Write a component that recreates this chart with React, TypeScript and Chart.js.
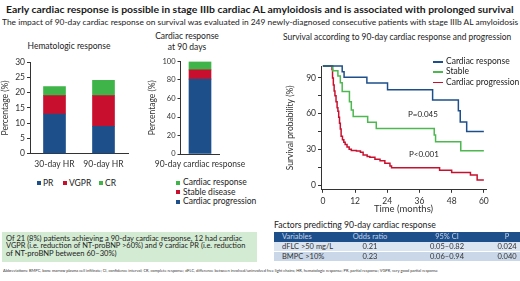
import React, { useEffect, useLayoutEffect, useRef } from 'react';
import { Chart, registerables } from 'chart.js';

Chart.register(...registerables);

const FONT = 'Lato, "Open Sans", sans-serif';
const BLUE = '#1d4f8b';
const RED = '#c8102e';
const GREEN = '#3fb549';
const KM_GREEN = '#4cb84f';
const AXIS = '#333333';

// Hematologic response (stacked %)
const hemaCategories = ['30-day HR', '90-day HR'];
const hemaPR = [13, 9];
const hemaVGPR = [6, 10];
const hemaCR = [3, 5];

// Cardiac response at 90 days (stacked %)
const cardCategories = ['90-day cardiac response'];
const cardProgression = [81];
const cardStable = [10];
const cardResponse = [9];

// Kaplan-Meier curves (months, survival %)
const respTime = [0, 7.2, 7.9, 16.4, 24.1, 40.9, 50.5, 51.2, 53.6, 60];
const respSurv = [100, 95.2, 90.5, 85.7, 80, 71.5, 62.5, 53, 45, 45];
const stableTime = [0, 3.7, 5.6, 6.5, 7.2, 9.9, 10.6, 11.3, 16.7, 19.9, 41.5, 42, 51.4, 60];
const stableSurv = [100, 96, 91.5, 86, 78.5, 70, 63, 57.5, 52.7, 47.6, 42, 36.4, 28.8, 28.8];
const progTime = [0, 3.4, 3.6, 3.9, 4.2, 4.5, 4.9, 5.3, 5.6, 5.9, 6.2, 6.5, 6.8, 7.3, 7.8, 8.3, 9.0, 9.8, 10.6, 12.5, 14, 15, 16.5, 17.5, 19.4, 21.3, 23.1, 25, 25.6, 43.5, 48, 55, 57.5, 60];
const progSurv = [100, 97, 90, 84, 79, 75, 70, 65, 62, 57, 52, 47, 41, 38, 36, 34, 32, 30, 29, 28.5, 27.5, 25.2, 24, 23.3, 21.6, 20.5, 18.2, 16, 14.5, 12.5, 10.6, 8.5, 4.2, 4.2];
const kmXTicks = [0, 12, 24, 36, 48, 60];
const kmYTicks = [0, 5, 10, 15, 20, 25, 30, 35, 40, 45, 50, 55, 60, 65, 70, 75, 80, 85, 90, 95, 100];

// Table
const tableHeader = ['Variables', 'Odds ratio', '95% CI', 'P'];
const tableVariables = ['dFLC >50 mg/L', 'BMPC >10%'];
const tableOdds = ['0.21', '0.23'];
const tableCI = ['0.05–0.82', '0.06–0.94'];
const tableP = ['0.024', '0.040'];

const axisBase = (size: number) => ({
  border: { display: true, color: AXIS, width: 1 },
  grid: { display: true, drawOnChartArea: false, drawTicks: true, tickLength: 3, color: AXIS },
  ticks: { color: AXIS, font: { family: FONT, size }, padding: 2 },
});

function ChartCanvas({ left, top, width, height, make }: any) {
  const ref = useRef<HTMLCanvasElement>(null);
  useEffect(() => {
    const chart = new Chart(ref.current as HTMLCanvasElement, make());
    return () => chart.destroy();
  }, []);
  return (
    <canvas
      ref={ref}
      width={width}
      height={height}
      style={{ position: 'absolute', left, top, width, height }}
    />
  );
}

function Fit({ x, cy, w, size, weight = 400, color = '#222', children }: any) {
  const ref = useRef<HTMLDivElement>(null);
  useLayoutEffect(() => {
    const el = ref.current as HTMLDivElement;
    const actual = el.offsetWidth;
    if (w && actual) el.style.transform = `scaleX(${w / actual})`;
  }, []);
  return (
    <div
      ref={ref}
      style={{
        position: 'absolute', left: x, top: cy - size / 2, fontSize: size, lineHeight: `${size}px`,
        fontWeight: weight, whiteSpace: 'nowrap', transformOrigin: '0 0', color, fontFamily: FONT,
      }}
    >
      {children}
    </div>
  );
}

function Text({ x, cy, size, align = 'left', weight = 400, color = '#222', children }: any) {
  const style: any = {
    position: 'absolute', top: cy - size / 2, fontSize: size, lineHeight: `${size}px`, fontWeight: weight,
    whiteSpace: 'nowrap', color, fontFamily: FONT,
  };
  if (align === 'center') { style.left = x; style.transform = 'translateX(-50%)'; }
  else if (align === 'right') { style.right = 520 - x; }
  else style.left = x;
  return <div style={style}>{children}</div>;
}

function Swatch({ x, cy, color, w = 4, h = 4 }: any) {
  return <div style={{ position: 'absolute', left: x, top: cy - h / 2, width: w, height: h, background: color }} />;
}

function makeHema() {
  const ax = axisBase(8.5);
  return {
    type: 'bar',
    data: {
      labels: hemaCategories,
      datasets: [
        { label: 'PR', data: hemaPR, backgroundColor: BLUE, barThickness: 22 },
        { label: 'VGPR', data: hemaVGPR, backgroundColor: RED, barThickness: 22 },
        { label: 'CR', data: hemaCR, backgroundColor: GREEN, barThickness: 22 },
      ],
    },
    options: {
      responsive: false, animation: false, devicePixelRatio: 1,
      layout: { padding: { top: 6, right: 7, left: 0, bottom: 0 } },
      plugins: { legend: { display: false }, tooltip: { enabled: false } },
      scales: {
        x: { ...ax, stacked: true, grid: { ...ax.grid, drawTicks: false }, ticks: { ...ax.ticks, padding: 5, maxRotation: 0 },
          afterFit: (s: any) => { s.height = 21.3; } },
        y: { ...ax, stacked: true, min: 0, max: 30, ticks: { ...ax.ticks, stepSize: 5 },
          title: { display: true, text: 'Percentage (%)', padding: 0, color: AXIS, font: { family: FONT, size: 8.5 } },
          afterFit: (s: any) => { s.width = 30; } },
      },
    },
  };
}

function makeCard() {
  const ax = axisBase(7.5);
  return {
    type: 'bar',
    data: {
      labels: cardCategories,
      datasets: [
        { label: 'Cardiac progression', data: cardProgression, backgroundColor: BLUE, barThickness: 22 },
        { label: 'Stable disease', data: cardStable, backgroundColor: RED, barThickness: 22 },
        { label: 'Cardiac response', data: cardResponse, backgroundColor: GREEN, barThickness: 22 },
      ],
    },
    options: {
      responsive: false, animation: false, devicePixelRatio: 1,
      layout: { padding: { top: 6.5, right: 25, left: 0, bottom: 0 } },
      plugins: { legend: { display: false }, tooltip: { enabled: false } },
      scales: {
        x: { ...ax, stacked: true, grid: { ...ax.grid, drawTicks: false }, ticks: { ...ax.ticks, font: { family: FONT, size: 8.5 }, padding: 5, maxRotation: 0 },
          afterFit: (s: any) => { s.height = 21; } },
        y: { ...ax, stacked: true, min: 0, max: 100, ticks: { ...ax.ticks, stepSize: 10 },
          title: { display: true, text: 'Percentage (%)', padding: 2, color: AXIS, font: { family: FONT, size: 8.5 } },
          afterFit: (s: any) => { s.width = 35; } },
      },
    },
  };
}

function makeKM() {
  const ax = axisBase(8.5);
  const pts = (t: number[], s: number[]) => t.map((v, i) => ({ x: v, y: s[i] }));
  const ds = (label: string, data: any, color: string) => ({
    label, data, borderColor: color, backgroundColor: color, borderWidth: 1.5, pointRadius: 0,
    stepped: 'before', fill: false, clip: 4,
  });
  return {
    type: 'line',
    data: {
      datasets: [
        ds('Cardiac response', pts(respTime, respSurv), BLUE),
        ds('Stable', pts(stableTime, stableSurv), KM_GREEN),
        ds('Cardiac progression', pts(progTime, progSurv), RED),
      ],
    },
    options: {
      responsive: false, animation: false, devicePixelRatio: 1,
      layout: { padding: { top: 11, right: 24, left: 0, bottom: 0 } },
      plugins: { legend: { display: false }, tooltip: { enabled: false } },
      scales: {
        x: { ...ax, type: 'linear', min: -0.7, max: 60.8,
          afterBuildTicks: (s: any) => { s.ticks = kmXTicks.map((v) => ({ value: v })); },
          ticks: { ...ax.ticks, padding: 3 },
          title: { display: true, text: 'Time (months)', padding: 0, color: AXIS, font: { family: FONT, size: 9.5 } },
          afterFit: (s: any) => { s.height = 25.2; } },
        y: { ...ax, type: 'linear', min: -4, max: 100,
          afterBuildTicks: (s: any) => { s.ticks = kmYTicks.map((v) => ({ value: v })); },
          ticks: { ...ax.ticks, callback: (v: any) => (v % 10 === 0 ? String(v) : '') },
          title: { display: true, text: 'Survival probability (%)', padding: 3, color: AXIS, font: { family: FONT, size: 8.5 } },
          afterFit: (s: any) => { s.width = 39; } },
      },
    },
  };
}

export default function App() {
  const colLeft = [282, 0, 0, 0];
  const colCenter = [0, 370, 447, 507];
  return (
    <div style={{ position: 'fixed', left: 0, top: 0, width: 520, height: 281, background: '#fff', overflow: 'hidden', fontFamily: FONT }}>
      <Fit x={6} cy={9} w={508} size={10} weight={700} color="#1a1a1a">
        Early cardiac response is possible in stage IIIb cardiac AL amyloidosis and is associated with prolonged survival
      </Fit>
      <Fit x={2} cy={22} w={516} size={8} color="#222">
        The impact of 90-day cardiac response on survival was evaluated in 249 newly-diagnosed consecutive patients with stage IIIb AL amyloidosis
      </Fit>

      <Text x={69} cy={46} size={8.5} align="center">Hematologic response</Text>
      <Text x={187} cy={36} size={8.5} align="center">Cardiac response</Text>
      <Text x={187} cy={47} size={8.5} align="center">at 90 days</Text>
      <Fit x={283} cy={37} w={228} size={8.5}>Survival according to 90-day cardiac response and progression</Fit>

      <ChartCanvas left={0} top={55} width={135} height={120} make={makeHema} />
      <ChartCanvas left={140} top={55} width={120} height={120} make={makeCard} />
      <ChartCanvas left={282} top={55} width={228} height={160} make={makeKM} />

      {/* Hematologic legend */}
      <Swatch x={37} cy={183} color={BLUE} />
      <Text x={43} cy={183} size={8.5}>PR</Text>
      <Swatch x={63} cy={183} color={RED} />
      <Text x={69} cy={183} size={8.5}>VGPR</Text>
      <Swatch x={99} cy={183} color={GREEN} />
      <Text x={105} cy={183} size={8.5}>CR</Text>

      {/* Cardiac legend */}
      <Swatch x={176} cy={182.7} color={GREEN} />
      <Text x={183} cy={182.7} size={8.5}>Cardiac response</Text>
      <Swatch x={176} cy={192.3} color={RED} />
      <Text x={183} cy={192.3} size={8.5}>Stable disease</Text>
      <Swatch x={176} cy={201.7} color={BLUE} />
      <Text x={183} cy={201.7} size={8.5}>Cardiac progression</Text>

      {/* KM legend */}
      <div style={{ position: 'absolute', left: 433, top: 61, width: 10, height: 1.5, background: BLUE }} />
      <Text x={446} cy={61.7} size={8.5}>Cardiac response</Text>
      <div style={{ position: 'absolute', left: 433, top: 71, width: 10, height: 1.5, background: KM_GREEN }} />
      <Text x={446} cy={71.7} size={8.5}>Stable</Text>
      <div style={{ position: 'absolute', left: 433, top: 81.5, width: 10, height: 1.5, background: RED }} />
      <Text x={446} cy={82.3} size={8.5}>Cardiac progression</Text>

      <Text x={408} cy={114} size={8}>P=0.045</Text>
      <Text x={409} cy={153.5} size={8}>P&lt;0.001</Text>

      {/* Green box */}
      <div style={{ position: 'absolute', left: 2, top: 231.5, width: 255, height: 30, background: '#d3ebd2' }} />
      <Fit x={6} cy={238.5} w={236} size={7.6} color="#222">Of 21 (8%) patients achieving a 90-day cardiac response, 12 had cardiac</Fit>
      <Fit x={6} cy={246} w={239} size={7.6} color="#222">VGPR (i.e. reduction of NT-proBNP &gt;60%) and 9 cardiac PR (i.e. reduction</Fit>
      <Fit x={6} cy={253.5} w={111} size={7.6} color="#222">of NT-proBNP between 60–30%)</Fit>

      {/* Table */}
      <Fit x={274} cy={225} w={162} size={8.8} color="#222">Factors predicting 90-day cardiac response</Fit>
      <div style={{ position: 'absolute', left: 274, top: 232.3, width: 246, height: 9.4, background: BLUE }} />
      <div style={{ position: 'absolute', left: 274, top: 241.9, width: 246, height: 9.4, background: '#dbe5f1' }} />
      <div style={{ position: 'absolute', left: 274, top: 251.7, width: 246, height: 9.4, background: '#c9d7e8' }} />
      {tableHeader.map((h, i) =>
        i === 0 ? (
          <Text key={h} x={colLeft[0]} cy={237} size={7.5} color="#c7d4e6">{h}</Text>
        ) : (
          <Text key={h} x={colCenter[i]} cy={237} size={7.5} align="center" color="#c7d4e6">{h}</Text>
        ),
      )}
      {tableVariables.map((v, r) => {
        const cy = 246.6 + r * 9.8;
        return (
          <React.Fragment key={v}>
            <Text x={colLeft[0]} cy={cy} size={7.5} color="#333">{v}</Text>
            <Text x={colCenter[1]} cy={cy} size={7.5} align="center" color="#333">{tableOdds[r]}</Text>
            <Text x={colCenter[2]} cy={cy} size={7.5} align="center" color="#333">{tableCI[r]}</Text>
            <Text x={colCenter[3]} cy={cy} size={7.5} align="center" color="#333">{tableP[r]}</Text>
          </React.Fragment>
        );
      })}

      <Fit x={3} cy={271} w={435} size={4.5} color="#333">
        Abbreviations: BMPC, bone marrow plasma cell infiltrate; CI, confidence interval; CR, complete response; dFLC, difference between involved/uninvolved free light chains; HR, hematologic response; PR, partial response; VGPR, very good partial response
      </Fit>
    </div>
  );
}
